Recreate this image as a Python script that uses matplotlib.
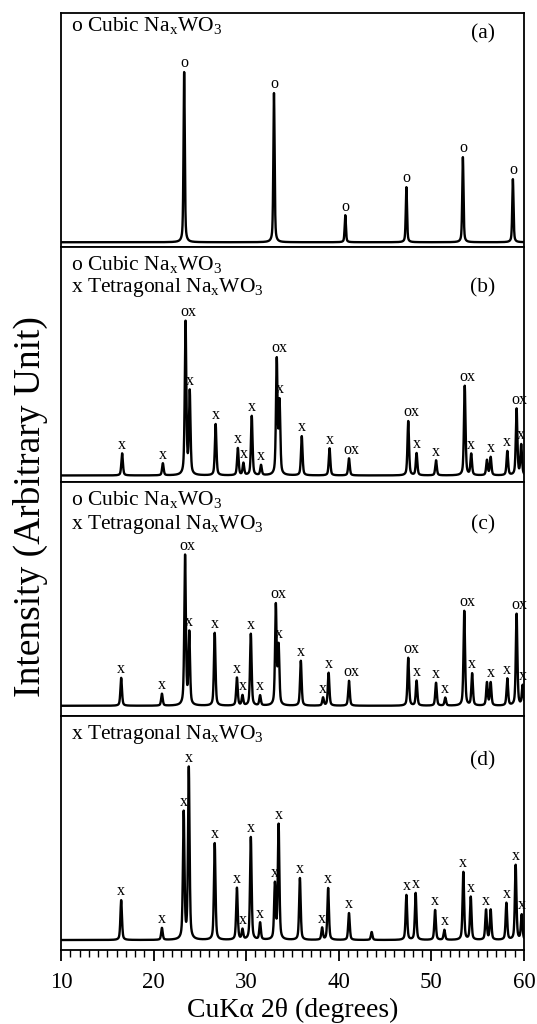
import numpy as np
import matplotlib.pyplot as plt
from matplotlib.ticker import MultipleLocator

plt.rcParams['font.family'] = ['Liberation Serif', 'DejaVu Serif']
plt.rcParams['mathtext.fontset'] = 'custom'
plt.rcParams['mathtext.rm'] = 'Liberation Serif'
plt.rcParams['mathtext.it'] = 'Liberation Serif'

# peak positions (2theta, deg), heights (arb. units) and phase tags
pos_a = [23.3, 33.0, 40.7, 47.3, 53.4, 58.8]
hgt_a = [170, 149, 27, 55, 85, 63]
tag_a = ['o', 'o', 'o', 'o', 'o', 'o']

pos_b = [16.6, 21.0, 23.45, 23.9, 26.7, 29.1, 29.7, 30.6, 31.6, 33.3, 33.6, 36.0,
         39.0, 41.1, 47.5, 48.4, 50.5, 53.6, 54.3, 56.0, 56.4, 58.2, 59.2, 59.7]
hgt_b = [22, 12, 152, 82, 51, 27, 12, 59, 10, 114, 71, 39,
         27, 17, 54, 22, 15, 89, 21, 15, 18, 24, 66, 30]
tag_b = ['x', 'x', 'ox', 'x', 'x', 'x', 'x', 'x', 'x', 'ox', 'x', 'x',
         'x', 'ox', 'ox', 'x', 'x', 'ox', 'x', '', 'x', 'x', 'ox', 'x']

pos_c = [16.5, 20.9, 23.4, 23.85, 26.6, 29.0, 29.6, 30.5, 31.5, 33.2, 33.5, 35.9, 38.3,
         38.9, 41.1, 47.5, 48.4, 50.5, 51.5, 53.55, 54.4, 56.0, 56.4, 58.2, 59.2, 59.85]
hgt_c = [28, 12, 150, 72, 73, 28, 10, 72, 10, 100, 58, 45, 8,
         33, 25, 48, 25, 23, 8, 95, 32, 23, 23, 27, 92, 20]
tag_c = ['x', 'x', 'ox', 'x', 'x', 'x', 'x', 'x', 'x', 'ox', 'x', 'x', 'x',
         'x', 'ox', 'ox', 'x', 'x', 'x', 'ox', 'x', '', 'x', 'x', 'ox', 'x']

pos_d = [16.5, 20.9, 23.25, 23.8, 26.6, 29.0, 29.6, 30.5, 31.5, 33.1, 33.5, 35.8, 38.2, 38.85,
         41.1, 43.55, 47.3, 48.3, 50.4, 51.4, 53.45, 54.25, 55.9, 56.4, 58.1, 59.1, 59.75]
hgt_d = [40, 12, 127, 172, 97, 52, 10, 103, 17, 55, 115, 62, 12, 52,
         27, 8, 45, 47, 30, 10, 68, 43, 30, 30, 37, 75, 25]
tag_d = ['x', 'x', 'x', 'x', 'x', 'x', 'x', 'x', 'x', 'x', 'x', 'x', 'x', 'x',
         'x', '', 'x', 'x', 'x', 'x', 'x', 'x', 'x', '', 'x', 'x', 'x']

panel_names = ['(a)', '(b)', '(c)', '(d)']
cubic = 'o Cubic Na$_{\\mathrm{x}}$WO$_3$'
tetra = 'x Tetragonal Na$_{\\mathrm{x}}$WO$_3$'
legend_lines = [[cubic], [cubic, tetra], [cubic, tetra], [tetra]]

# baselines of the legend lines / panel label, in pixels below the panel top
legend_px = [[18], [23, 45], [23, 47], [23]]
name_px = [25, 45, 48, 50]


def pattern(tt, pos, hgt, hw):
    # pseudo-Voigt peaks on a flat baseline
    y = np.zeros_like(tt)
    for p, h in zip(pos, hgt):
        g = np.exp(-np.log(2) * ((tt - p) / hw) ** 2)
        l = 1.0 / (1.0 + ((tt - p) / hw) ** 2)
        y += h * (0.5 * g + 0.5 * l)
    return y


tt = np.arange(10, 60.001, 0.01)
panels = [(pos_a, hgt_a, tag_a, 0.08), (pos_b, hgt_b, tag_b, 0.1),
          (pos_c, hgt_c, tag_c, 0.1), (pos_d, hgt_d, tag_d, 0.1)]
ylims = [(-5, 229), (-6, 227), (-10, 225), (-10, 225)]

fig = plt.figure(figsize=(5.37, 10.24), dpi=100)
axes = fig.subplots(4, 1, sharex=True, gridspec_kw=dict(hspace=0))
fig.subplots_adjust(left=61 / 537, right=524 / 537, top=1 - 13 / 1024, bottom=1 - 950 / 1024)

for i, (ax, (pos, hgt, tag, hw)) in enumerate(zip(axes, panels)):
    y = pattern(tt, pos, hgt, hw)
    ax.plot(tt, y, color='black', lw=1.7)
    for p, t in zip(pos, tag):
        if not t:
            continue
        yt = y[np.abs(tt - p) < 0.15].max()
        ax.annotate(t, (p, yt), xytext=(2 if t == 'ox' else 0, 0.5), textcoords='offset points',
                    ha='center', va='bottom', fontsize=11.5)
    ax.set_ylim(*ylims[i])
    ax.set_yticks([])
    for s in ax.spines.values():
        s.set_linewidth(1.3)
    for line, px in zip(legend_lines[i], legend_px[i]):
        ax.annotate(line, (0.022, 1), xycoords='axes fraction', xytext=(0, -px * 0.72),
                    textcoords='offset points', ha='left', va='baseline', fontsize=15.5)
    ax.annotate(panel_names[i], (0.911, 1), xycoords='axes fraction', xytext=(0, -name_px[i] * 0.72),
                textcoords='offset points', ha='center', va='baseline', fontsize=15.5)
    ax.tick_params(axis='x', which='both', bottom=False, labelbottom=False)

ax = axes[-1]
ax.set_xlim(10, 60)
ax.xaxis.set_major_locator(MultipleLocator(10))
ax.xaxis.set_minor_locator(MultipleLocator(1))
ax.tick_params(axis='x', which='both', direction='out', bottom=True, labelbottom=True)
ax.tick_params(axis='x', which='major', length=8, width=1.3, labelsize=16.5, pad=8)
ax.tick_params(axis='x', which='minor', length=5, width=1.0)
ax.set_xlabel('CuK\u03b1 2\u03b8 (degrees)', fontsize=20, labelpad=3)

fig.text(0.056, 0.505, 'Intensity (Arbitrary Unit)', rotation=90, ha='center', va='center', fontsize=27)

fig.savefig('out.png', dpi=100)
